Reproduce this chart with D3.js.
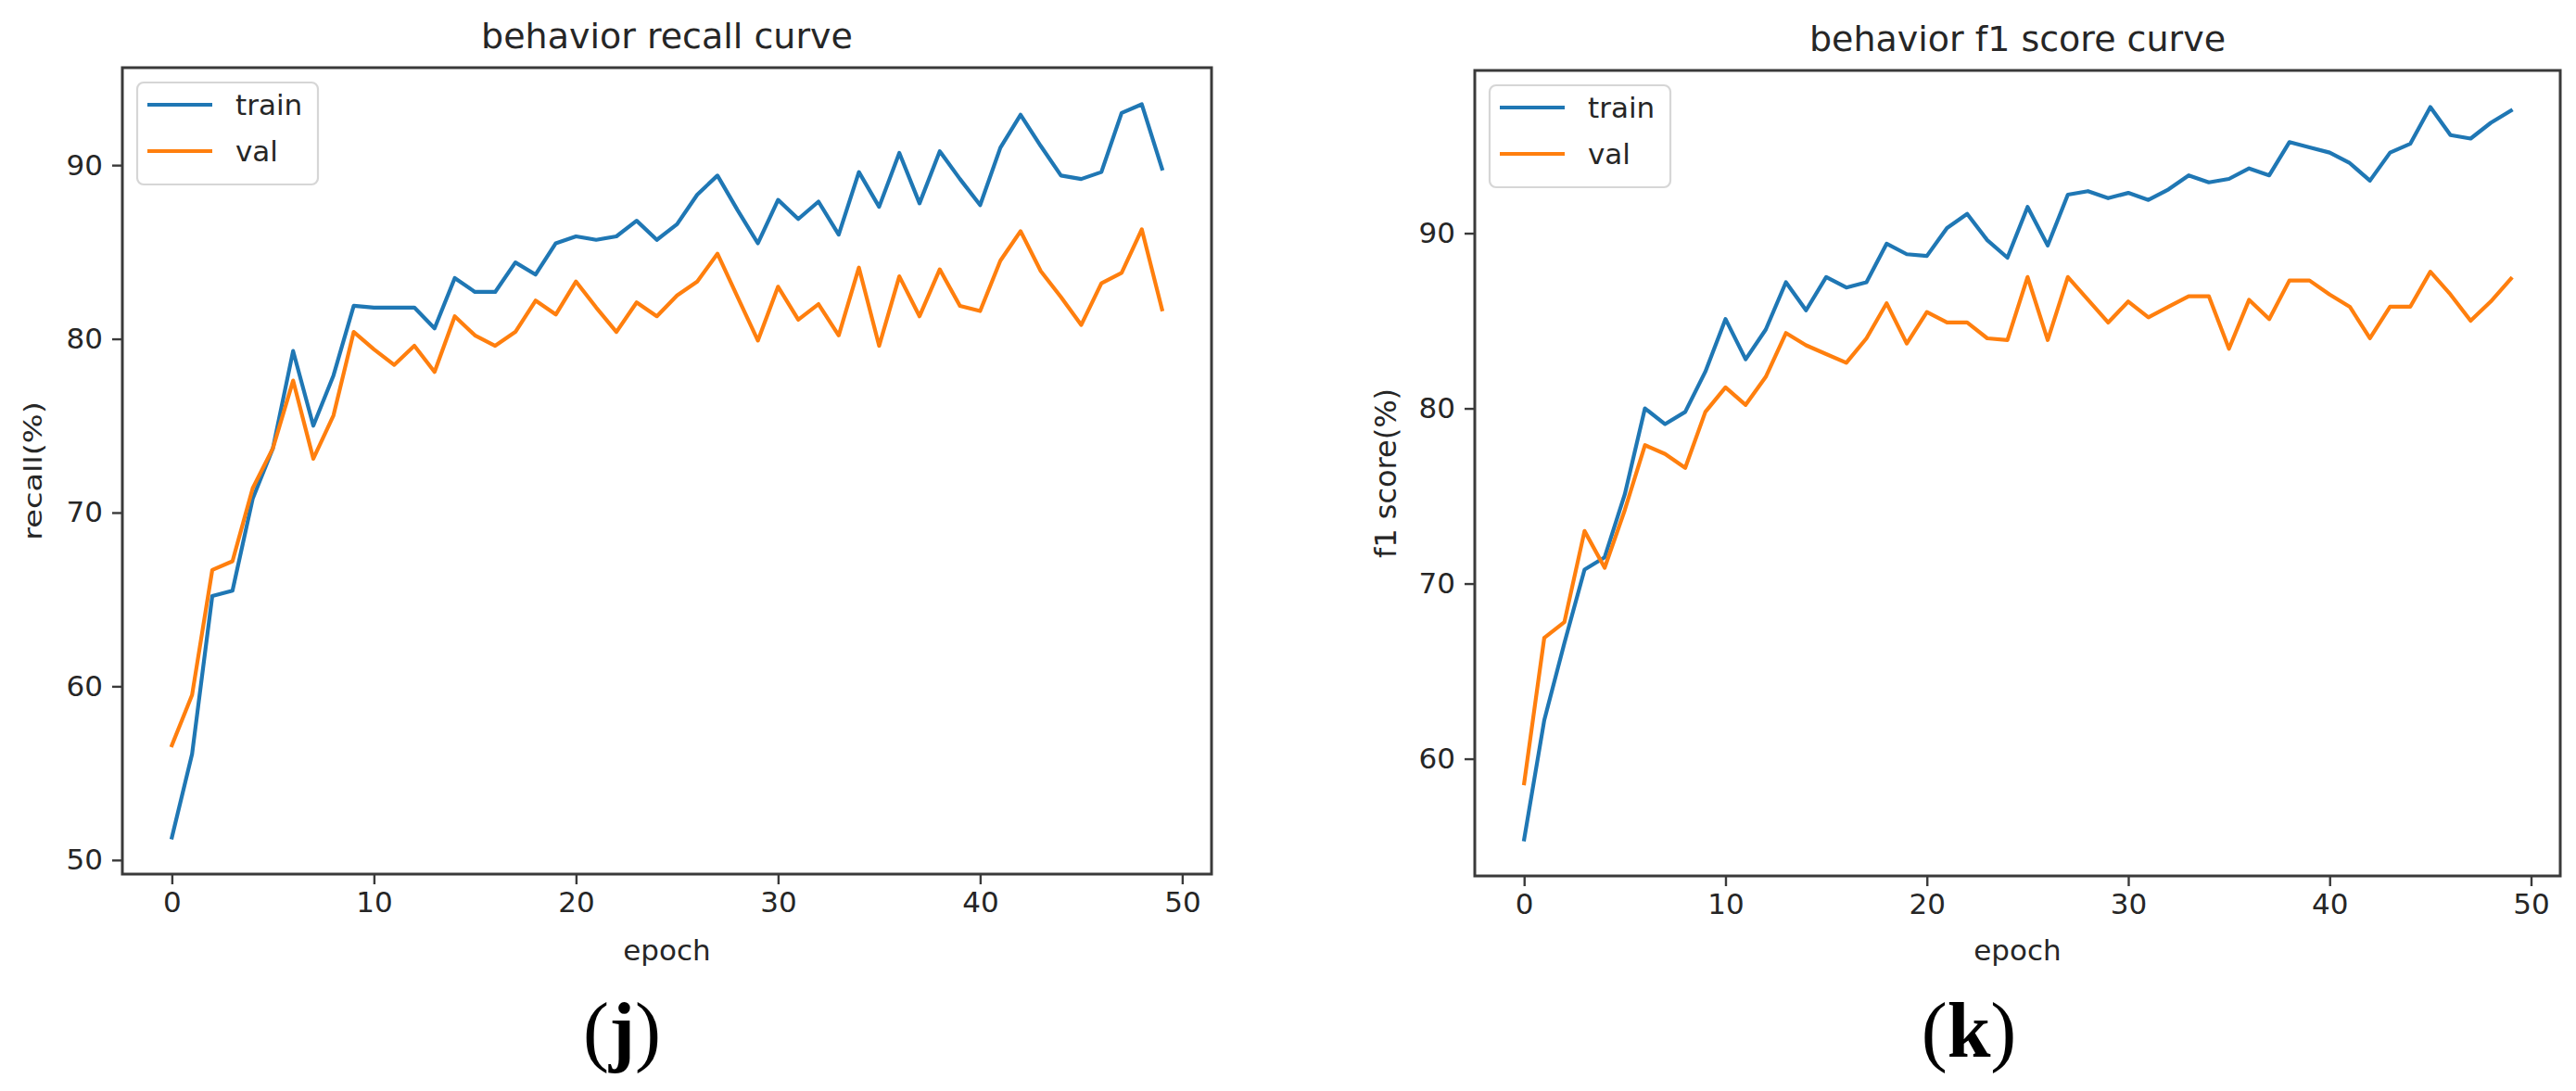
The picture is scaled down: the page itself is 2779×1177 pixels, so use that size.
<!DOCTYPE html>
<html>
<head>
<meta charset="utf-8">
<script src="https://cdn.jsdelivr.net/npm/d3@7"></script>
<style>
  html, body { margin: 0; padding: 0; background: #fff; }
  svg { display: block; }
</style>
</head>
<body>
<svg id="chart" width="2779" height="1177"></svg>
<script>
// ---------------- DATA ----------------
const epochs = d3.range(0, 50);
const xTicks = [0, 10, 20, 30, 40, 50];
const seriesNames = ["train", "val"];

const recallTrain = [51.3,56.1,65.2,65.5,70.8,73.7,79.3,75.0,77.9,81.9,
                     81.8,81.8,81.8,80.6,83.5,82.7,82.7,84.4,83.7,85.5,
                     85.9,85.7,85.9,86.8,85.7,86.6,88.3,89.4,87.4,85.5,
                     88.0,86.9,87.9,86.0,89.6,87.6,90.7,87.8,90.8,89.2,
                     87.7,91.0,92.9,91.1,89.4,89.2,89.6,93.0,93.5,89.8];
const recallVal   = [56.6,59.5,66.7,67.2,71.4,73.7,77.6,73.1,75.6,80.4,
                     79.4,78.5,79.6,78.1,81.3,80.2,79.6,80.4,82.2,81.4,
                     83.3,81.8,80.4,82.1,81.3,82.5,83.3,84.9,82.4,79.9,
                     83.0,81.1,82.0,80.2,84.1,79.6,83.6,81.3,84.0,81.9,
                     81.6,84.5,86.2,83.9,82.4,80.8,83.2,83.8,86.3,81.7];
const recallYTicks = [50, 60, 70, 80, 90];

const f1Train = [55.4,62.2,66.6,70.8,71.5,75.1,80.0,79.1,79.8,82.1,
                 85.1,82.8,84.5,87.2,85.6,87.5,86.9,87.2,89.4,88.8,
                 88.7,90.3,91.1,89.6,88.6,91.5,89.3,92.2,92.4,92.0,
                 92.3,91.9,92.5,93.3,92.9,93.1,93.7,93.3,95.2,94.9,
                 94.6,94.0,93.0,94.6,95.1,97.2,95.6,95.4,96.3,97.0];
const f1Val   = [58.6,66.9,67.8,73.0,70.9,74.2,77.9,77.4,76.6,79.8,
                 81.2,80.2,81.8,84.3,83.6,83.1,82.6,84.0,86.0,83.7,
                 85.5,84.9,84.9,84.0,83.9,87.5,83.9,87.5,86.2,84.9,
                 86.1,85.2,85.8,86.4,86.4,83.4,86.2,85.1,87.3,87.3,
                 86.5,85.8,84.0,85.8,85.8,87.8,86.5,85.0,86.1,87.4];
const f1YTicks = [60, 70, 80, 90];

// ---------------- STYLE / LAYOUT ----------------
const colors = ["#1f77b4", "#ff7f0e"];
const FONT = "'DejaVu Sans', sans-serif";
const TEXT = "#262626";
const SPINE = "#3a3a3a";

const svg = d3.select("#chart");
svg.append("rect").attr("width", 2779).attr("height", 1177).attr("fill", "#fff");

function pad(lo, hi) { const r = hi - lo; return [lo - 0.05 * r, hi + 0.05 * r]; }

function panel(cfg) {
  const { left, right, top, bottom } = cfg.box;
  const all = cfg.series.flat();
  const x = d3.scaleLinear().domain(pad(0, 49)).range([left, right]);
  const y = d3.scaleLinear().domain(pad(d3.min(all), d3.max(all))).range([bottom, top]);
  const g = svg.append("g");

  // x axis
  const xa = g.append("g").attr("transform", `translate(0,${bottom})`)
    .call(d3.axisBottom(x).tickValues(xTicks).tickFormat(d3.format("d")).tickSizeOuter(0).tickSize(11).tickPadding(8));
  xa.select(".domain").remove();
  xa.selectAll("line").attr("stroke", SPINE).attr("stroke-width", 2.4);
  xa.selectAll("text").attr("font-family", FONT).attr("font-size", 31).attr("fill", TEXT);

  // y axis
  const ya = g.append("g").attr("transform", `translate(${left},0)`)
    .call(d3.axisLeft(y).tickValues(cfg.yTicks).tickFormat(d3.format("d")).tickSizeOuter(0).tickSize(11).tickPadding(10));
  ya.select(".domain").remove();
  ya.selectAll("line").attr("stroke", SPINE).attr("stroke-width", 2.4);
  ya.selectAll("text").attr("font-family", FONT).attr("font-size", 31).attr("fill", TEXT);

  // lines
  const line = d3.line().x((d, i) => x(epochs[i])).y(d => y(d));
  cfg.series.forEach((s, k) => {
    g.append("path").datum(s).attr("d", line).attr("fill", "none")
      .attr("stroke", colors[k]).attr("stroke-width", 4.2)
      .attr("stroke-linejoin", "round").attr("stroke-linecap", "square");
  });

  // spines
  g.append("rect").attr("x", left).attr("y", top).attr("width", right - left).attr("height", bottom - top)
    .attr("fill", "none").attr("stroke", SPINE).attr("stroke-width", 3);

  // title
  g.append("text").attr("x", (left + right) / 2).attr("y", top - 21)
    .attr("text-anchor", "middle").attr("font-family", FONT).attr("font-size", 38).attr("fill", TEXT)
    .text(cfg.title);

  // x label
  g.append("text").attr("x", (left + right) / 2).attr("y", 1036)
    .attr("text-anchor", "middle").attr("font-family", FONT).attr("font-size", 31).attr("fill", TEXT)
    .text("epoch");

  // y label
  g.append("text")
    .attr("transform", `translate(${cfg.ylabX},${(top + bottom) / 2}) rotate(-90) scale(${cfg.ylabScale[0]},${cfg.ylabScale[1]})`)
    .attr("text-anchor", "middle").attr("font-family", FONT).attr("font-size", 32).attr("fill", TEXT)
    .text(cfg.ylabel);

  // legend
  const lg = g.append("g").attr("transform", `translate(${left + 16},${top + 16})`);
  lg.append("rect").attr("width", 195).attr("height", 110).attr("rx", 7)
    .attr("fill", "#fff").attr("fill-opacity", 0.8).attr("stroke", "#d6d6d6").attr("stroke-width", 2.2);
  seriesNames.forEach((n, k) => {
    const yy = 24 + k * 50;
    lg.append("line").attr("x1", 11).attr("x2", 81).attr("y1", yy).attr("y2", yy)
      .attr("stroke", colors[k]).attr("stroke-width", 4.2);
    lg.append("text").attr("x", 106).attr("y", yy + 11)
      .attr("font-family", FONT).attr("font-size", 31).attr("fill", TEXT).text(n);
  });

  // panel letter
  const t = svg.append("text").attr("x", cfg.letterX).attr("y", 1140).attr("text-anchor", "middle")
    .attr("font-family", "'Liberation Serif', 'Times New Roman', serif").attr("font-size", 84).attr("fill", "#000");
  t.append("tspan").text("(");
  t.append("tspan").attr("font-weight", "bold").text(cfg.letter);
  t.append("tspan").text(")");
}

panel({
  box: { left: 132, right: 1307, top: 73, bottom: 943 },
  series: [recallTrain, recallVal],
  yTicks: recallYTicks,
  title: "behavior recall curve",
  ylabel: "recall(%)",
  ylabX: 45, ylabScale: [1.05, 0.85],
  letter: "j", letterX: 671
});

panel({
  box: { left: 1591, right: 2762, top: 76, bottom: 945 },
  series: [f1Train, f1Val],
  yTicks: f1YTicks,
  title: "behavior f1 score curve",
  ylabel: "f1 score(%)",
  ylabX: 1506, ylabScale: [1, 1],
  letter: "k", letterX: 2124
});
</script>
</body>
</html>
